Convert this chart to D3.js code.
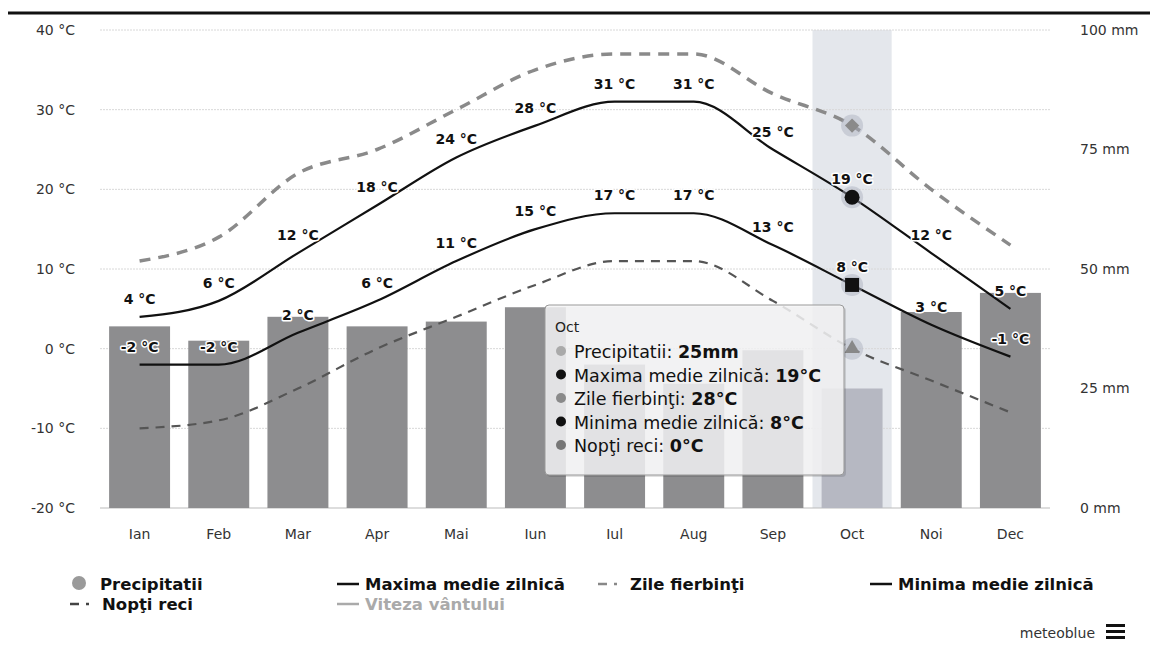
<!DOCTYPE html>
<html><head><meta charset="utf-8">
<script src="https://cdn.jsdelivr.net/npm/d3@7"></script>
<style>
body{margin:0;background:#fff;}
svg{display:block;font-family:"DejaVu Sans",sans-serif;}
</style></head>
<body><svg id="c" width="1150" height="647"></svg>
<script>
const months = ["Ian","Feb","Mar","Apr","Mai","Iun","Iul","Aug","Sep","Oct","Noi","Dec"];
const precip = [38, 35, 40, 38, 39, 42, 30, 26, 33, 25, 41, 45];
const tMax = [4, 6, 12, 18, 24, 28, 31, 31, 25, 19, 12, 5];
const hotDays = [11, 14, 22, 25, 30, 35, 37, 37, 32, 28, 20, 13];
const tMin = [-2, -2, 2, 6, 11, 15, 17, 17, 13, 8, 3, -1];
const coldNights = [-10, -9, -5, 0, 4, 8, 11, 11, 6, 0, -4, -8];
const tempTicks = [40, 30, 20, 10, 0, -10, -20];
const mmTicks = [100, 75, 50, 25, 0];
const hoverMonth = "Oct";
const tooltipRows = [
  {label:"Precipitatii: ", value:"25mm", color:"#aaaaaa"},
  {label:"Maxima medie zilnică: ", value:"19°C", color:"#111111"},
  {label:"Zile fierbinţi: ", value:"28°C", color:"#8a8a8a"},
  {label:"Minima medie zilnică: ", value:"8°C", color:"#111111"},
  {label:"Nopţi reci: ", value:"0°C", color:"#777777"}
];
const legendItems = [
  {name:"Precipitatii", type:"circle", color:"#9a9a9a", text:"#111", x:72, y:584},
  {name:"Maxima medie zilnică", type:"line", color:"#111", text:"#111", x:337, y:584},
  {name:"Zile fierbinţi", type:"dash", color:"#888", text:"#111", x:598, y:584},
  {name:"Minima medie zilnică", type:"line", color:"#111", text:"#111", x:870, y:584},
  {name:"Nopţi reci", type:"dash", color:"#444", text:"#111", x:70, y:604},
  {name:"Viteza vântului", type:"line", color:"#aaa", text:"#aaa", x:337, y:604}
];

const svg = d3.select("#c");
const L = 100, R = 1050, T = 30, B = 508;
const x = d3.scaleBand().domain(months).range([L, R]).paddingInner(0.23).paddingOuter(0.115);
const y = d3.scaleLinear().domain([-20, 40]).range([B, T]);
const yMm = d3.scaleLinear().domain([0, 100]).range([B, T]);
const cx = m => x(m) + x.bandwidth() / 2;

// top border
svg.append("line").attr("x1", 8).attr("x2", 1150).attr("y1", 13).attr("y2", 13)
  .attr("stroke", "#111").attr("stroke-width", 3);

// hover band
const step = x.step();
svg.append("rect").attr("x", cx(hoverMonth) - step / 2).attr("y", T)
  .attr("width", step).attr("height", B - T).attr("fill", "#e4e7ec");

// gridlines
svg.append("g").selectAll("line").data(tempTicks).join("line")
  .attr("x1", L).attr("x2", R).attr("y1", d => y(d)).attr("y2", d => y(d))
  .attr("stroke", d => d === -20 ? "#bbb" : "#d8d8d8").attr("stroke-width", 1)
  .attr("stroke-dasharray", d => d === -20 ? null : "2,1");

// left axis
const yAxis = d3.axisLeft(y).tickValues(tempTicks).tickSize(0).tickFormat(d => d + " °C");
const ga = svg.append("g").attr("transform", `translate(${L - 22},0)`).call(yAxis);
ga.select(".domain").remove();
ga.selectAll("text").attr("font-size", 14).attr("fill", "#333").attr("font-family", "DejaVu Sans");

// right axis
const yAxisR = d3.axisRight(yMm).tickValues(mmTicks).tickSize(0).tickFormat(d => d + " mm");
const gr = svg.append("g").attr("transform", `translate(${R + 27},0)`).call(yAxisR);
gr.select(".domain").remove();
gr.selectAll("text").attr("font-size", 14).attr("fill", "#333").attr("font-family", "DejaVu Sans");

// x axis
const xAxis = d3.axisBottom(x).tickSize(0);
const gx = svg.append("g").attr("transform", `translate(0,${B + 18})`).call(xAxis);
gx.select(".domain").remove();
gx.selectAll("text").attr("font-size", 14).attr("fill", "#333").attr("font-family", "DejaVu Sans");

// bars
svg.append("g").selectAll("rect").data(months).join("rect")
  .attr("x", d => x(d)).attr("width", x.bandwidth())
  .attr("y", (d, i) => yMm(precip[i])).attr("height", (d, i) => B - yMm(precip[i]))
  .attr("fill", d => d === hoverMonth ? "#b6b8c2" : "#8d8d8f");

// lines
const line = d3.line().x((d, i) => cx(months[i])).y(d => y(d)).curve(d3.curveMonotoneX);
svg.append("path").attr("d", line(hotDays)).attr("fill", "none")
  .attr("stroke", "#8a8a8a").attr("stroke-width", 3.5).attr("stroke-dasharray", "11,8");
svg.append("path").attr("d", line(coldNights)).attr("fill", "none")
  .attr("stroke", "#555").attr("stroke-width", 2.2).attr("stroke-dasharray", "9,7");
svg.append("path").attr("d", line(tMax)).attr("fill", "none")
  .attr("stroke", "#111").attr("stroke-width", 2.2);
svg.append("path").attr("d", line(tMin)).attr("fill", "none")
  .attr("stroke", "#111").attr("stroke-width", 2.2);

// data labels
function labels(vals) {
  svg.append("g").selectAll("text").data(vals).join("text")
    .attr("x", (d, i) => cx(months[i])).attr("y", d => y(d) - 13)
    .attr("text-anchor", "middle").attr("font-size", 14).attr("font-weight", "bold")
    .attr("fill", "#111").attr("stroke", "#fff").attr("stroke-width", 3)
    .attr("paint-order", "stroke").attr("stroke-linejoin", "round")
    .text(d => d + " °C");
}
labels(tMax);
labels(tMin);

// hover markers
const hi = months.indexOf(hoverMonth);
const hx = cx(hoverMonth);
const halo = v => svg.append("circle").attr("cx", hx).attr("cy", y(v)).attr("r", 11)
  .attr("fill", "#a9acbc").attr("opacity", 0.45);
[hotDays[hi], tMax[hi], tMin[hi], coldNights[hi]].forEach(halo);
svg.append("path").attr("d", d3.symbol(d3.symbolDiamond2, 130)())
  .attr("transform", `translate(${hx},${y(hotDays[hi])})`).attr("fill", "#8a8a8a");
svg.append("circle").attr("cx", hx).attr("cy", y(tMax[hi])).attr("r", 7.5).attr("fill", "#111");
svg.append("rect").attr("x", hx - 7).attr("y", y(tMin[hi]) - 7).attr("width", 14).attr("height", 14).attr("fill", "#111");
svg.append("path").attr("d", d3.symbol(d3.symbolTriangle, 100)())
  .attr("transform", `translate(${hx},${y(coldNights[hi])})`).attr("fill", "#888");

// tooltip
const tt = svg.append("g").attr("transform", "translate(545,305)");
tt.append("rect").attr("x", 2).attr("y", 2).attr("width", 299).attr("height", 170).attr("rx", 4)
  .attr("fill", "#000").attr("opacity", 0.12);
tt.append("rect").attr("width", 299).attr("height", 170).attr("rx", 4)
  .attr("fill", "#f4f4f6").attr("fill-opacity", 0.85).attr("stroke", "#999").attr("stroke-width", 1);
tt.append("text").attr("x", 10).attr("y", 27).attr("font-size", 14).attr("fill", "#222").text(hoverMonth);
tooltipRows.forEach((r, i) => {
  const yy = 47 + i * 23.5;
  tt.append("circle").attr("cx", 16).attr("cy", yy - 1).attr("r", 5).attr("fill", r.color);
  const t = tt.append("text").attr("x", 29).attr("y", yy + 6).attr("font-size", 17.5).attr("fill", "#111");
  t.append("tspan").text(r.label);
  t.append("tspan").attr("font-weight", "bold").text(r.value);
});

// legend
legendItems.forEach(it => {
  const g = svg.append("g").attr("transform", `translate(${it.x},${it.y})`);
  let tx;
  if (it.type === "circle") {
    g.append("circle").attr("cx", 7).attr("cy", -1).attr("r", 7).attr("fill", it.color);
    tx = 28;
  } else if (it.type === "line") {
    g.append("line").attr("x1", 0).attr("x2", 22).attr("y1", 0).attr("y2", 0)
      .attr("stroke", it.color).attr("stroke-width", 2.5);
    tx = 28;
  } else {
    g.append("line").attr("x1", 0).attr("x2", 24).attr("y1", 0).attr("y2", 0)
      .attr("stroke", it.color).attr("stroke-width", 2.5).attr("stroke-dasharray", "9,7,3,7");
    tx = 32;
  }
  g.append("text").attr("x", tx).attr("y", 6).attr("font-size", 16.5).attr("font-weight", "bold")
    .attr("fill", it.text).text(it.name);
});

// credit
svg.append("text").attr("x", 1095).attr("y", 638).attr("text-anchor", "end")
  .attr("font-size", 14).attr("fill", "#333").text("meteoblue");
[0, 6, 12].forEach(o => svg.append("rect").attr("x", 1106).attr("y", 624 + o).attr("width", 19).attr("height", 3).attr("fill", "#111"));
</script></body></html>
